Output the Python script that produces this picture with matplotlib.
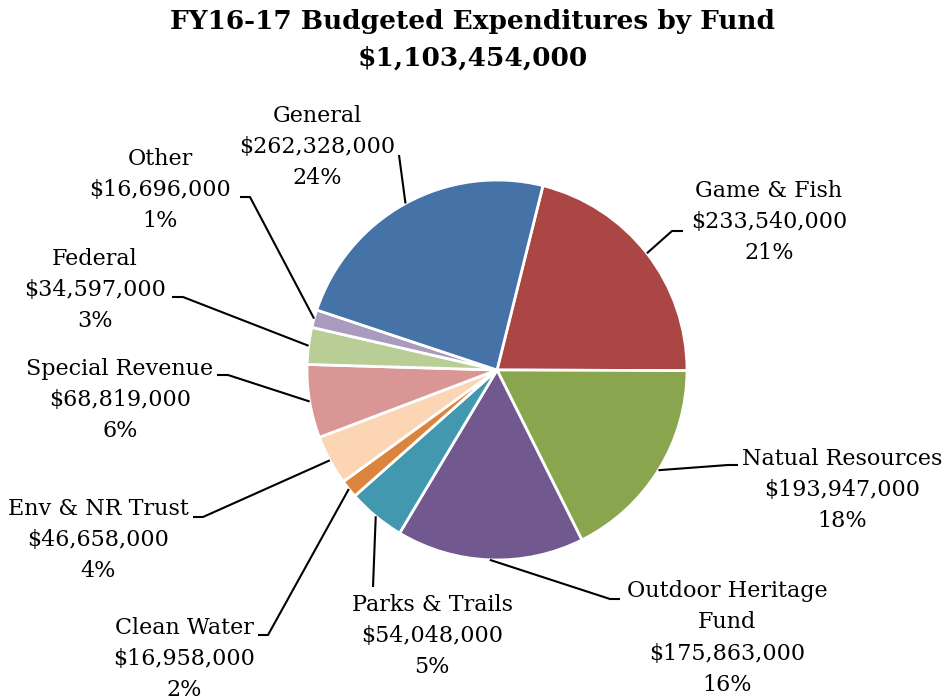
import matplotlib
matplotlib.use("Agg")
import matplotlib.pyplot as plt
import numpy as np

# ---- data (pie order, clockwise from start) ----
categories = ["Game & Fish", "Natual Resources", "Outdoor Heritage\nFund", "Parks & Trails",
              "Clean Water", "Env & NR Trust", "Special Revenue", "Federal", "Other", "General"]
values = [233540000, 193947000, 175863000, 54048000, 16958000, 46658000,
          68819000, 34597000, 16696000, 262328000]
percent_labels = ["21%", "18%", "16%", "5%", "2%", "4%", "6%", "3%", "1%", "24%"]
colors = ["#AA4643", "#89A54E", "#71588F", "#4198AF", "#DB843D", "#FCD5B5",
          "#D99694", "#B9CD96", "#A99BBD", "#4572A7"]
title_lines = ["FY16-17 Budgeted Expenditures by Fund", "$1,103,454,000"]

# ---- layout (pixel coordinates, y measured from top) ----
W, H = 945, 700
cx, cy, R = 497, 370, 190
label_center = [(769, 222), (842, 490), (727, 638), (432, 636), (184, 659),
                (98, 540), (120, 400), (95, 290), (160, 190), (317, 147)]
# leader-line start (next to text) and optional stub end
leader_text = [((683, 231), (672, 231)), ((738, 465), (728, 465)), ((620, 599), (610, 599)),
               ((373, 587), None), ((258, 635), (268, 635)), ((193, 517), (203, 517)),
               ((217, 375), (228, 375)), ((172, 297), (183, 297)), ((240, 197), (250, 197)),
               ((399, 155), None)]

fig = plt.figure(figsize=(W / 100, H / 100), dpi=100)
ax = fig.add_axes([0, 0, 1, 1])

def py(y):
    return H - y

wedges, _ = ax.pie(values, colors=colors, startangle=76, counterclock=False,
                   center=(cx, py(cy)), radius=R,
                   wedgeprops=dict(edgecolor="white", linewidth=2))
ax.set_xlim(0, W)
ax.set_ylim(0, H)
ax.set_aspect("auto")
ax.axis("off")

font = "DejaVu Serif"
for w, name, v, pct, (tx, ty), (p0, p1) in zip(wedges, categories, values, percent_labels,
                                               label_center, leader_text):
    mid = np.deg2rad((w.theta1 + w.theta2) / 2)
    ex = cx + R * np.cos(mid)
    ey = py(cy) + R * np.sin(mid)
    txt = f"{name}\n${v:,.0f}\n{pct}"
    ax.text(tx, py(ty), txt, ha="center", va="center", fontsize=16, family=font,
            linespacing=1.55, color="black")
    if p1 is None:
        xs = [p0[0], ex]
        ys = [py(p0[1]), ey]
    else:
        xs = [p0[0], p1[0], ex]
        ys = [py(p0[1]), py(p1[1]), ey]
    ax.plot(xs, ys, color="black", lw=1.5, solid_capstyle="butt")

ax.text(473, py(22), title_lines[0], ha="center", va="center", fontsize=19,
        fontweight="bold", family=font)
ax.text(473, py(58), title_lines[1], ha="center", va="center", fontsize=19,
        fontweight="bold", family=font)

fig.savefig("out.png", dpi=100)
